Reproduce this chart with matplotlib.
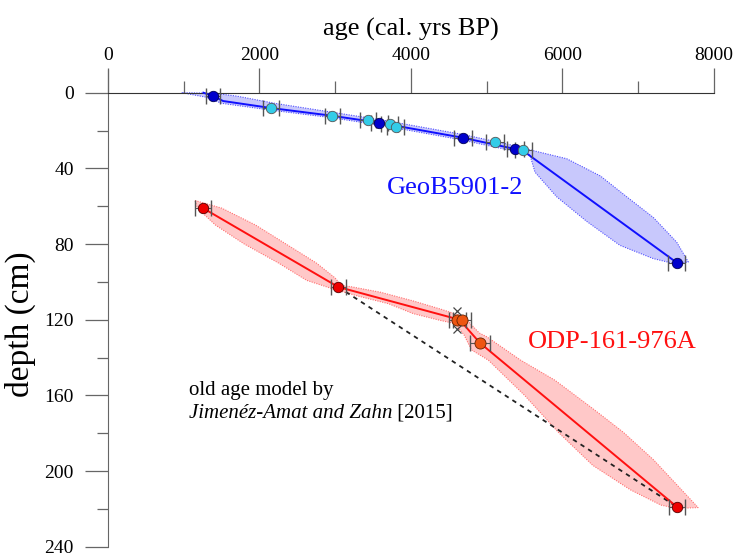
import numpy as np
import matplotlib.pyplot as plt

plt.rcParams['font.family'] = 'Liberation Serif'

# GeoB5901-2: dated levels (age in cal yrs BP, depth in cm)
geob_dark_age = [1390, 3582, 4682, 5377, 7507]
geob_dark_depth = [1.8, 15.9, 23.8, 29.8, 89.8]
geob_dark_err = [95, 110, 120, 110, 110]
geob_cyan_age = [2152, 2961, 3432, 3718, 3798, 5109, 5483]
geob_cyan_depth = [8.1, 12.2, 14.6, 16.6, 18.2, 26.1, 30.5]
geob_cyan_err = [100, 100, 110, 110, 110, 120, 110]

# GeoB5901-2 age model (median) and envelope
geob_model_age = [1260, 1390, 1520, 2152, 2961, 3582, 4682, 5377, 5483, 7507]
geob_model_depth = [0, 1.8, 4.4, 8.1, 12.2, 15.9, 23.8, 29.8, 30.8, 89.8]
geob_old_age = [973, 1400, 1700, 2200, 3000, 3600, 4700, 5400, 5600, 6055, 6500, 6847, 7200, 7507, 7661]
geob_old_depth = [0, 0.3, 1.8, 5.6, 10.6, 14.3, 22.2, 28.3, 30.5, 34.9, 44, 55, 66, 79, 89.5]
geob_young_age = [973, 1300, 1500, 2150, 2950, 3600, 4650, 5350, 5571, 5637, 5923, 6319, 6759, 7199, 7459]
geob_young_depth = [0, 2.4, 5.6, 9.2, 13.2, 17.2, 24.8, 30.8, 33, 42, 55, 68, 80.7, 87.7, 90.2]

# ODP-161-976A
odp_red_age = [1254, 3040, 7512]
odp_red_depth = [61, 102.7, 219]
odp_red_err = [100, 100, 100]
odp_orange_age = [4612, 4669, 4911]
odp_orange_depth = [120, 120, 132.3]
odp_orange_err = [110, 120, 130]
odp_cross_age = [4602, 4602]
odp_cross_depth = [115.4, 124.7]

odp_model_age = [1254, 3040, 4640, 4911, 7512]
odp_model_depth = [61, 102.7, 120, 132.3, 219]
odp_old_age = [1150, 1500, 1950, 2350, 2750, 3000, 3080, 3200, 3600, 4031, 4400, 4700,
               4900, 5000, 5448, 5900, 6400, 6800, 7200, 7550, 7790]
odp_old_depth = [57, 61, 70, 80, 90, 98, 102, 102.5, 105.5, 110.1, 114.5, 118.5,
                 127, 129, 141.4, 152, 167, 179.4, 194, 209, 219.3]
odp_young_age = [1150, 1180, 1420, 1800, 2250, 2623, 2990, 3300, 3700, 4031, 4400, 4580,
                 4700, 4800, 5022, 5500, 5942, 6400, 6900, 7300, 7512]
odp_young_depth = [57, 61, 70, 80, 90, 99.2, 104, 107.5, 111.5, 116.8, 120.5, 122,
                   128, 136, 141.4, 160, 179.4, 197, 210, 218, 219.8]

# old age model by Jimenez-Amat and Zahn (2015)
old_model_age = [3040, 7512]
old_model_depth = [102.7, 219]

fig = plt.figure(figsize=(7.37, 5.56), dpi=100)
ax = fig.add_axes([0.1465, 0.0167, 0.8223, 0.8574])


def envelope(old_a, old_d, young_a, young_d, fc, ec):
    xs = list(old_a) + list(young_a)[::-1]
    ys = list(old_d) + list(young_d)[::-1]
    ax.fill(xs, ys, facecolor=fc, edgecolor='none', zorder=1)
    ax.plot(xs + xs[:1], ys + ys[:1], color=ec, lw=0.8, ls=(0, (1, 1.2)), zorder=1.5)


envelope(geob_old_age, geob_old_depth, geob_young_age, geob_young_depth, '#c8c8fc', '#5050ff')
envelope(odp_old_age, odp_old_depth, odp_young_age, odp_young_depth, '#ffc8c8', '#ff7070')

ax.plot(old_model_age, old_model_depth, color='#222222', lw=1.3, ls=(0, (2.5, 2.5)), zorder=2)
ax.plot(geob_model_age, geob_model_depth, color='#1010ff', lw=1.4, zorder=3)
ax.plot(odp_model_age, odp_model_depth, color='#ff1010', lw=1.4, zorder=3)

eb = dict(fmt='none', ecolor='#555555', elinewidth=0.8, capsize=5.5, capthick=1.0, zorder=4)
ax.errorbar(geob_dark_age, geob_dark_depth, xerr=geob_dark_err, **eb)
ax.errorbar(geob_cyan_age, geob_cyan_depth, xerr=geob_cyan_err, **eb)
ax.errorbar(odp_red_age, odp_red_depth, xerr=odp_red_err, **eb)
ax.errorbar(odp_orange_age, odp_orange_depth, xerr=odp_orange_err, **eb)

ax.plot(geob_dark_age, geob_dark_depth, 'o', ms=7.5, mfc='#0000cc', mec='#000055', mew=0.6, zorder=5)
ax.plot(geob_cyan_age, geob_cyan_depth, 'o', ms=7.5, mfc='#33cce8', mec='#555555', mew=0.6, zorder=5)
ax.plot(odp_red_age, odp_red_depth, 'o', ms=7.5, mfc='#ee0000', mec='#550000', mew=0.6, zorder=5)
ax.plot(odp_orange_age, odp_orange_depth, 'o', ms=8, mfc='#ee5511', mec='#662200', mew=0.6, zorder=5)
ax.plot(odp_cross_age, odp_cross_depth, 'x', ms=5.5, color='#444444', mew=0.9, zorder=5)

ax.text(3683, 50.6, 'GeoB5901-2', color='#1010ff', fontsize=19, va='center', ha='left')
ax.text(5545, 131.9, 'ODP-161-976A', color='#ff1010', fontsize=19, va='center', ha='left')
ax.text(1069, 157.3, 'old age model by', fontsize=15, va='center', ha='left')
t1 = ax.text(1069, 169.4, 'Jimenéz-Amat and Zahn', fontsize=15, style='italic',
             va='center', ha='left')
ax.annotate(' [2015]', xy=(1, 0), xycoords=t1, fontsize=15, va='bottom', ha='left')

ax.set_xlim(0, 8000)
ax.set_ylim(240, -12)

for s in ['right', 'bottom']:
    ax.spines[s].set_visible(False)
ax.spines['top'].set_position(('data', 0))
ax.spines['top'].set_color('#333333')
ax.spines['left'].set_color('#666666')

ax.xaxis.set_ticks_position('top')
ax.xaxis.set_label_position('top')
ax.set_xticks(np.arange(0, 8001, 2000))
ax.set_xticks(np.arange(1000, 8000, 2000), minor=True)
ax.set_yticks(np.arange(0, 241, 40))
ax.set_yticks(np.arange(20, 240, 40), minor=True)

ax.tick_params(axis='x', which='major', direction='out', length=18, width=0.9,
               color='#666666', labelsize=14, pad=3)
ax.tick_params(axis='x', which='minor', direction='out', length=9, width=0.9, color='#666666')
ax.tick_params(axis='y', which='major', direction='out', length=16.5, width=0.9,
               color='#666666', labelsize=14, pad=8)
ax.tick_params(axis='y', which='minor', direction='out', length=8, width=0.9, color='#666666')

ax.set_xlabel('age (cal. yrs BP)', fontsize=19, labelpad=8)
ax.set_ylabel('depth (cm)', fontsize=24)
ax.yaxis.set_label_coords(-0.118, 0.467)

fig.savefig('out.png', dpi=100)
